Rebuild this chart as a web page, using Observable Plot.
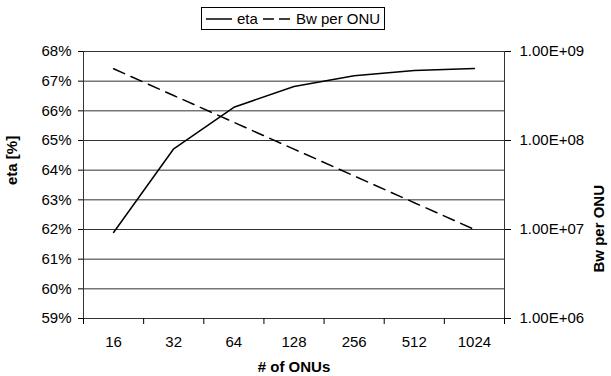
<!DOCTYPE html>
<html>
<head>
<meta charset="utf-8">
<script src="https://cdn.jsdelivr.net/npm/d3@7"></script>
<script src="https://cdn.jsdelivr.net/npm/@observablehq/plot@0.6"></script>
<style>
  html, body { margin: 0; padding: 0; background: #fff; }
  #wrap { position: relative; width: 611px; height: 376px; font-family: "Liberation Sans", Arial, sans-serif; }
  #legend { position: absolute; left: 201px; top: 7px; }
</style>
</head>
<body>
<div id="wrap"></div>
<script>
// ---- data ----
const onus = ["16", "32", "64", "128", "256", "512", "1024"];
const eta = [61.9, 64.72, 66.12, 66.82, 67.18, 67.36, 67.43];          // %
const bwPerOnu = [6.4e8, 3.2e8, 1.6e8, 8.0e7, 4.0e7, 2.0e7, 1.0e7];    // bps
const etaTicks = [59, 60, 61, 62, 63, 64, 65, 66, 67, 68];
const bwTicks = [1e6, 1e7, 1e8, 1e9];
const bwTickLabels = ["1.00E+06", "1.00E+07", "1.00E+08", "1.00E+09"];
const seriesNames = ["eta", "Bw per ONU"];

// right (log) axis mapped onto the left % scale: 1e6 -> 59%, 1e9 -> 68%
const toEta = v => 59 + (Math.log10(v) - 6) * 3;

const chart = Plot.plot({
  width: 611,
  height: 376,
  marginLeft: 83,
  marginRight: 107,
  marginTop: 51,
  marginBottom: 58,
  style: { fontFamily: "'Liberation Sans', Arial, sans-serif", fontSize: "15px", color: "#000", background: "#fff" },
  x: { domain: [-0.5, 6.5] },
  y: { domain: [59, 68] },
  marks: [
    Plot.ruleY(etaTicks, { stroke: "#333", strokeWidth: 1 }),
    Plot.ruleX([-0.5, 6.5], { y1: 59, y2: 68, stroke: "#333", strokeWidth: 1 }),
    Plot.axisY({ anchor: "left", ticks: etaTicks, tickFormat: d => d + "%", tickSize: 5, tickPadding: 7, label: null }),
    Plot.axisY({
      anchor: "right",
      ticks: bwTicks.map(toEta),
      tickFormat: d => bwTickLabels[bwTicks.findIndex(t => Math.abs(toEta(t) - d) < 1e-6)],
      tickSize: 6, tickPadding: 9, label: null
    }),
    Plot.axisX({ ticks: d3.range(-0.5, 7, 1), tickFormat: () => "", tickSize: 6, label: null }),
    Plot.axisX({ ticks: d3.range(7), tickFormat: i => onus[i], tickSize: 0, tickPadding: 18, label: null }),
    Plot.line(eta, { x: (d, i) => i, y: d => d, stroke: "#000", strokeWidth: 1.5 }),
    Plot.line(bwPerOnu, { x: (d, i) => i, y: d => toEta(d), stroke: "#000", strokeWidth: 1.5, strokeDasharray: "12,7" }),
    Plot.text(["# of ONUs"], { text: d => d, frameAnchor: "bottom", dy: 49, lineAnchor: "middle", fontWeight: "bold" }),
    Plot.text(["eta [%]"], { text: d => d, frameAnchor: "left", dx: -71, rotate: -90, fontWeight: "bold" }),
    Plot.text(["Bw per ONU"], { text: d => d, frameAnchor: "right", dx: 95, rotate: -90, fontWeight: "bold" })
  ]
});

const wrap = document.getElementById("wrap");
wrap.appendChild(chart);

// legend (above the plot area)
const ns = "http://www.w3.org/2000/svg";
const leg = document.createElementNS(ns, "svg");
leg.setAttribute("id", "legend");
leg.setAttribute("width", 184);
leg.setAttribute("height", 23);
leg.innerHTML = `
  <rect x="0.5" y="0.5" width="183" height="22" fill="#fff" stroke="#000" stroke-width="1"/>
  <line x1="5" x2="31" y1="12" y2="12" stroke="#000" stroke-width="1.5"/>
  <text x="36" y="12" dy="0.35em" font-size="15" font-family="'Liberation Sans', Arial, sans-serif">${seriesNames[0]}</text>
  <line x1="62" x2="89" y1="12" y2="12" stroke="#000" stroke-width="1.5" stroke-dasharray="11,5"/>
  <text x="95" y="12" dy="0.35em" font-size="15" font-family="'Liberation Sans', Arial, sans-serif">${seriesNames[1]}</text>`;
wrap.appendChild(leg);
</script>
</body>
</html>
